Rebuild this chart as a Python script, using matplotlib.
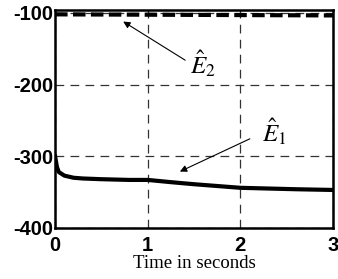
import matplotlib
matplotlib.use('Agg')
import matplotlib.pyplot as plt

# estimated curves
t1 = [0, 0.02, 0.04, 0.1, 0.2, 0.3, 0.5, 0.8, 1.0, 1.24, 1.5, 1.8, 2.0, 2.3, 2.6, 3.0]
e1 = [-300, -315, -322, -327, -330, -331, -332, -333, -333, -336, -339, -342, -344, -345, -346, -347]
t2 = [0, 1.0, 2.0, 3.0]
e2 = [-102, -102.5, -103, -103.5]

xticks = [0, 1, 2, 3]
yticks = [-400, -300, -200, -100]

plt.rcParams['mathtext.fontset'] = 'stix'

fig = plt.figure(figsize=(3.38, 2.79), dpi=100)
ax = fig.add_axes([0.163, 0.183, 0.822, 0.781])

ax.plot(t1, e1, color='black', lw=3)
ax.plot(t2, e2, color='black', lw=3, linestyle=(0, (3, 1.3)))

ax.set_xlim(0, 3)
ax.set_ylim(-400, -96)
ax.set_xticks(xticks)
ax.set_yticks(yticks)
ax.set_xticklabels([str(v) for v in xticks], fontweight='bold', fontsize=14.5, family='Liberation Sans')
ax.set_yticklabels([str(v) for v in yticks], fontweight='bold', fontsize=14.5, family='Liberation Sans')
ax.tick_params(axis='y', length=0, pad=1)
ax.tick_params(axis='x', length=0, pad=6)
ax.grid(True, color='#333333', linestyle=(0, (7, 5)), lw=0.9)
for s in ax.spines.values():
    s.set_linewidth(1.8)

ax.set_xlabel('Time in seconds', family='Liberation Serif', fontsize=13.5, labelpad=0)

ax.annotate('', xy=(0.71, -110), xytext=(1.43, -168),
            arrowprops=dict(arrowstyle='-|>', color='black', lw=0.8, mutation_scale=10))
ax.text(1.60, -171, r'$\hat{E}_2$', fontsize=18, ha='center', va='center')
ax.annotate('', xy=(1.32, -323), xytext=(2.13, -274),
            arrowprops=dict(arrowstyle='-|>', color='black', lw=0.8, mutation_scale=10))
ax.text(2.37, -266, r'$\hat{E}_1$', fontsize=18, ha='center', va='center')

fig.savefig('out.png', dpi=100)
